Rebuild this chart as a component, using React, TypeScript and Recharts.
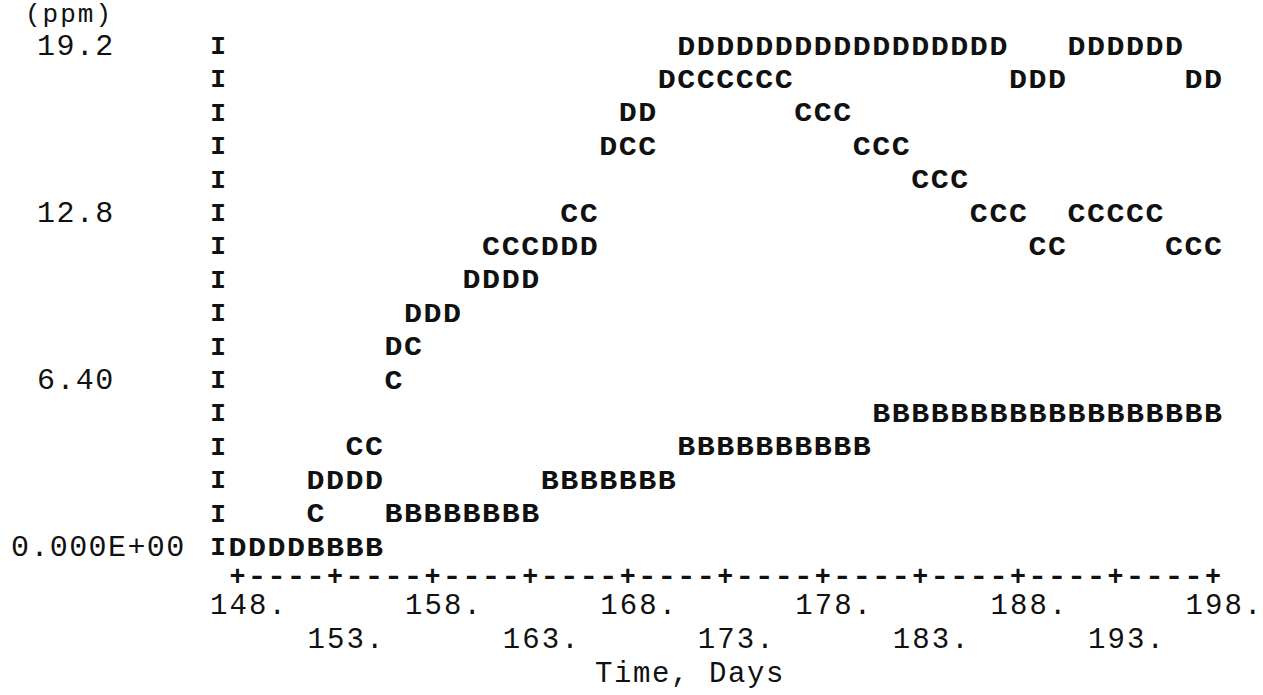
import { ScatterChart, Scatter, XAxis, YAxis, Label } from "recharts";

// one entry per printer column (1 day each)
const days = [
  148, 149, 150, 151, 152, 153, 154, 155, 156, 157, 158, 159, 160, 161, 162, 163, 164,
  165, 166, 167, 168, 169, 170, 171, 172, 173, 174, 175, 176, 177, 178, 179, 180, 181,
  182, 183, 184, 185, 186, 187, 188, 189, 190, 191, 192, 193, 194, 195, 196, 197, 198,
];

// ppm (row step 1.28)
const seriesB = [
  0, 0, 0, 0, 0, 0, 0, 0,
  1.28, 1.28, 1.28, 1.28, 1.28, 1.28, 1.28, 1.28,
  2.56, 2.56, 2.56, 2.56, 2.56, 2.56, 2.56,
  3.84, 3.84, 3.84, 3.84, 3.84, 3.84, 3.84, 3.84, 3.84, 3.84,
  5.12, 5.12, 5.12, 5.12, 5.12, 5.12, 5.12, 5.12, 5.12, 5.12, 5.12, 5.12, 5.12, 5.12, 5.12,
  5.12, 5.12, 5.12,
];

const seriesC = [
  0, 0, 0, 0, 1.28, 2.56, 3.84, 3.84, 6.4, 7.68, 8.96, 8.96, 10.24,
  11.52, 11.52, 11.52, 11.52, 12.8, 12.8, 15.36, 15.36, 15.36,
  17.92, 17.92, 17.92, 17.92, 17.92, 17.92, 17.92,
  16.64, 16.64, 16.64, 15.36, 15.36, 15.36, 14.08, 14.08, 14.08,
  12.8, 12.8, 12.8, 11.52, 11.52, 12.8, 12.8, 12.8, 12.8, 12.8, 11.52, 11.52, 11.52,
];

const seriesD = [
  0, 0, 0, 0, 2.56, 2.56, 2.56, 2.56, 7.68, 8.96, 8.96, 8.96,
  10.24, 10.24, 10.24, 10.24, 11.52, 11.52, 11.52, 15.36, 16.64, 16.64, 17.92,
  19.2, 19.2, 19.2, 19.2, 19.2, 19.2, 19.2, 19.2, 19.2, 19.2, 19.2, 19.2, 19.2, 19.2,
  19.2, 19.2, 19.2,
  17.92, 17.92, 17.92, 19.2, 19.2, 19.2, 19.2, 19.2, 19.2, 17.92, 17.92,
];

const rowTicks = [
  0, 1.28, 2.56, 3.84, 5.12, 6.4, 7.68, 8.96, 10.24, 11.52, 12.8, 14.08, 15.36, 16.64,
  17.92, 19.2,
];
const rowLabels: Record<string, string> = {
  "19.2": "19.2",
  "12.8": "12.8",
  "6.4": "6.40",
  "0": "0.000E+00",
};
const upperDayLabels = [148, 158, 168, 178, 188, 198];
const lowerDayLabels = [153, 163, 173, 183, 193];

const MONO = "'Liberation Mono', 'DejaVu Sans Mono', monospace";
const CELL = 19.5;
const INK = "#111";

// a printer only shows one character per cell: D overprints C, C overprints B
const dData = days.map((day, i) => ({ day, value: seriesD[i], hidden: false }));
const cData = days.map((day, i) => ({ day, value: seriesC[i], hidden: seriesD[i] === seriesC[i] }));
const bData = days.map((day, i) => ({
  day,
  value: seriesB[i],
  hidden: seriesC[i] === seriesB[i] || seriesD[i] === seriesB[i],
}));

function letter(ch: string) {
  return (props: any) => {
    if (props.payload?.hidden) return <g />;
    return (
      <text
        x={props.cx}
        y={props.cy}
        textAnchor="middle"
        dominantBaseline="central"
        fontFamily={MONO}
        fontWeight="bold"
        fontSize={28}
        textLength={18}
        lengthAdjust="spacingAndGlyphs"
        fill={INK}
      >
        {ch}
      </text>
    );
  };
}

function RowTick({ x, y, payload }: any) {
  const label = rowLabels[String(payload.value)];
  return (
    <g>
      <text x={x} y={y} textAnchor="middle" dominantBaseline="central" fontFamily={MONO}
        fontWeight="bold" fontSize={26} fill={INK}>
        I
      </text>
      {label && (
        <text x={label.length > 5 ? 11 : 37} y={y} dominantBaseline="central" fontFamily={MONO}
          fontSize={30} letterSpacing={1.4} fill={INK}>
          {label}
        </text>
      )}
    </g>
  );
}

function DayTick({ x, y, payload }: any) {
  const d = payload.value as number;
  const isPlus = (d - 148) % 5 === 0;
  const textProps = { fontFamily: MONO, fontSize: 29, letterSpacing: 2.1, fill: INK };
  return (
    <g>
      <text x={x} y={y + 29} textAnchor="middle" dominantBaseline="central" fontFamily={MONO}
        fontWeight="bold" fontSize={28} textLength={isPlus ? 16 : 19.5}
        lengthAdjust="spacingAndGlyphs" fill={INK}>
        {isPlus ? "+" : "-"}
      </text>
      {upperDayLabels.includes(d) && (
        <text x={x - CELL - 8} y={y + 58} dominantBaseline="central" {...textProps}>
          {d}.
        </text>
      )}
      {lowerDayLabels.includes(d) && (
        <text x={x - CELL - 8} y={y + 92} dominantBaseline="central" {...textProps}>
          {d}.
        </text>
      )}
    </g>
  );
}

export default function App() {
  return (
    <div style={{ position: "absolute", left: 0, top: 0, background: "#fff" }}>
      <ScatterChart width={1263} height={695} margin={{ top: 47, right: 50, bottom: 0, left: 0 }}>
        <XAxis
          type="number"
          dataKey="day"
          domain={[147, 198]}
          ticks={days}
          interval={0}
          height={147}
          axisLine={false}
          tickLine={false}
          tickSize={0}
          tickMargin={0}
          tick={<DayTick />}
        >
          <Label
            content={({ viewBox }: any) => (
              <text x={595} y={viewBox.y + 126} dominantBaseline="central" fontFamily={MONO}
                fontSize={29} letterSpacing={1.6} fill={INK}>
                Time, Days
              </text>
            )}
          />
        </XAxis>
        <YAxis
          type="number"
          dataKey="value"
          domain={[0, 19.2]}
          ticks={rowTicks}
          interval={0}
          width={218}
          axisLine={false}
          tickLine={false}
          tickSize={0}
          tickMargin={0}
          tick={<RowTick />}
        >
          <Label
            content={({ viewBox }: any) => (
              <text x={25} y={viewBox.y - 32} dominantBaseline="central" fontFamily={MONO}
                fontSize={26} letterSpacing={2} fill={INK}>
                (ppm)
              </text>
            )}
          />
        </YAxis>
        <Scatter name="B" data={bData} isAnimationActive={false} shape={letter("B")} />
        <Scatter name="C" data={cData} isAnimationActive={false} shape={letter("C")} />
        <Scatter name="D" data={dData} isAnimationActive={false} shape={letter("D")} />
      </ScatterChart>
    </div>
  );
}
